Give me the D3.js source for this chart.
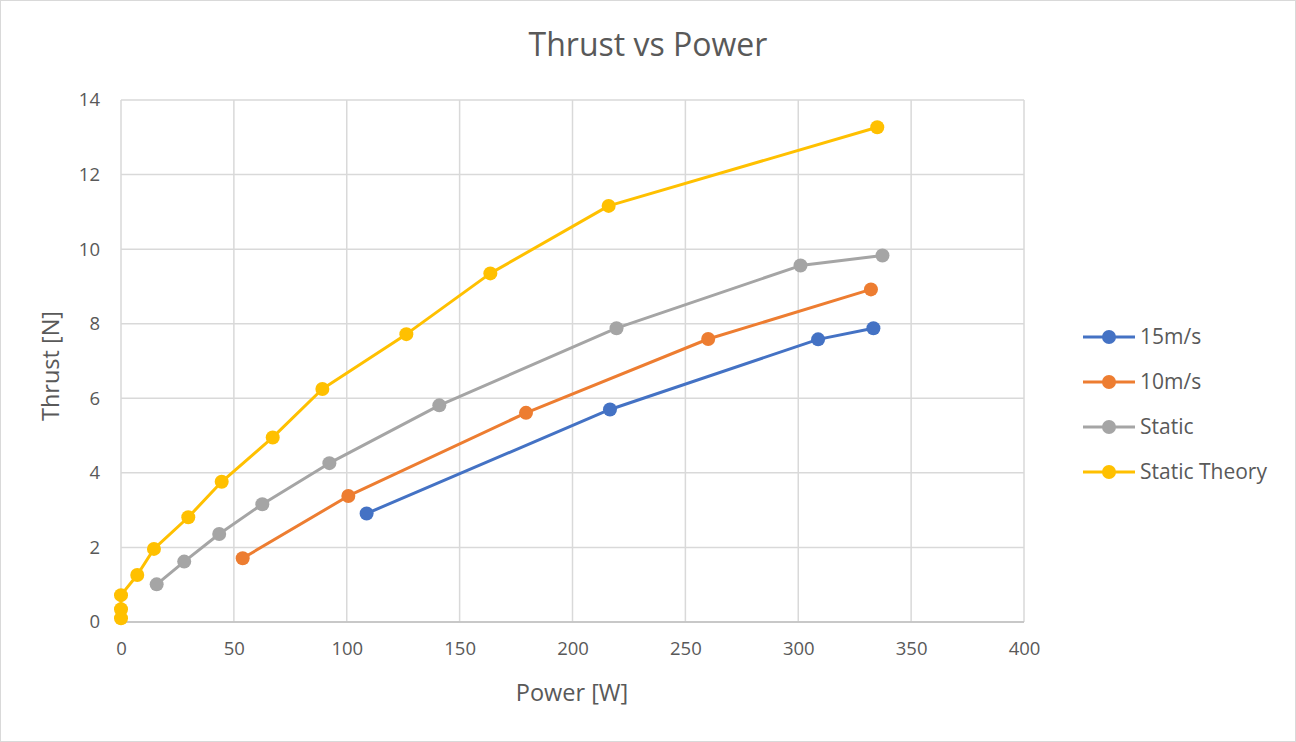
<!DOCTYPE html>
<html><head><meta charset="utf-8">
<script src="https://cdn.jsdelivr.net/npm/d3@7"></script>
<style>body{margin:0;background:#fff}svg{display:block}text{font-family:"Open Sans","Noto Sans",sans-serif;fill:#595959}</style>
</head><body>
<svg id="c" width="1296" height="742"></svg>
<script>
const seriesNames = ["15m/s", "10m/s", "Static", "Static Theory"];
const seriesColors = ["#4472C4", "#ED7D31", "#A5A5A5", "#FFC000"];
const power15 = [108.8, 216.6, 308.8, 333.3];
const thrust15 = [2.91, 5.70, 7.58, 7.88];
const power10 = [53.9, 100.7, 179.4, 260.1, 332.2];
const thrust10 = [1.71, 3.38, 5.61, 7.59, 8.92];
const powerStatic = [15.8, 28.0, 43.5, 62.6, 92.3, 141.0, 219.5, 301.0, 337.3];
const thrustStatic = [1.01, 1.62, 2.36, 3.16, 4.26, 5.81, 7.88, 9.56, 9.83];
const powerTheory = [0, 0, 0, 7.2, 14.6, 29.8, 44.6, 67.2, 89.2, 126.4, 163.6, 216.0, 335.0];
const thrustTheory = [0.1, 0.34, 0.72, 1.26, 1.96, 2.81, 3.76, 4.95, 6.25, 7.72, 9.35, 11.16, 13.27];
const xTicks = [0, 50, 100, 150, 200, 250, 300, 350, 400];
const yTicks = [0, 2, 4, 6, 8, 10, 12, 14];

const series = [
  {name: seriesNames[0], color: seriesColors[0], xs: power15, ys: thrust15},
  {name: seriesNames[1], color: seriesColors[1], xs: power10, ys: thrust10},
  {name: seriesNames[2], color: seriesColors[2], xs: powerStatic, ys: thrustStatic},
  {name: seriesNames[3], color: seriesColors[3], xs: powerTheory, ys: thrustTheory}
];

const svg = d3.select("#c");
svg.append("rect").attr("x",0.5).attr("y",0.5).attr("width",1295).attr("height",741)
  .attr("fill","#fff").attr("stroke","#d9d9d9");

const x = d3.scaleLinear().domain([0,400]).range([121,1024]);
const y = d3.scaleLinear().domain([0,14]).range([622,100]);

svg.append("g").selectAll("line").data(yTicks).join("line")
  .attr("x1",x(0)).attr("x2",x(400)).attr("y1",d=>y(d)).attr("y2",d=>y(d))
  .attr("stroke","#d9d9d9").attr("stroke-width",1.5);
svg.append("g").selectAll("line").data(xTicks).join("line")
  .attr("y1",y(0)).attr("y2",y(14)).attr("x1",d=>x(d)).attr("x2",d=>x(d))
  .attr("stroke","#d9d9d9").attr("stroke-width",1.5);
svg.append("line").attr("x1",x(0)).attr("x2",x(400)).attr("y1",y(0)).attr("y2",y(0))
  .attr("stroke","#bfbfbf").attr("stroke-width",1.5);

const xAxis = svg.append("g").attr("transform",`translate(0,${y(0)})`)
  .call(d3.axisBottom(x).tickValues(xTicks).tickSize(0).tickPadding(20).tickFormat(d3.format("d")));
xAxis.select(".domain").remove();
xAxis.selectAll("text").style("font-size","18.5px").attr("fill","#595959");
const yAxis = svg.append("g").attr("transform",`translate(${x(0)},0)`)
  .call(d3.axisLeft(y).tickValues(yTicks).tickSize(0).tickPadding(21).tickFormat(d3.format("d")));
yAxis.select(".domain").remove();
yAxis.selectAll("text").style("font-size","18.5px").attr("fill","#595959");

const line = d3.line().x(d=>x(d[0])).y(d=>y(d[1]));
series.forEach(s=>{
  const pts = s.xs.map((v,i)=>[v,s.ys[i]]);
  svg.append("path").datum(pts).attr("d",line).attr("fill","none")
    .attr("stroke",s.color).attr("stroke-width",3).attr("stroke-linejoin","round");
  svg.append("g").selectAll("circle").data(pts).join("circle")
    .attr("cx",d=>x(d[0])).attr("cy",d=>y(d[1])).attr("r",7).attr("fill",s.color);
});

svg.append("text").attr("x",648).attr("y",56).attr("text-anchor","middle")
  .style("font-size","32px").text("Thrust vs Power");
svg.append("text").attr("x",572).attr("y",701).attr("text-anchor","middle")
  .style("font-size","23.5px").text("Power [W]");
svg.append("text").attr("transform","translate(59,366) rotate(-90)").attr("text-anchor","middle")
  .style("font-size","23.5px").text("Thrust [N]");

const lg = svg.append("g").selectAll("g").data(series).join("g")
  .attr("transform",(d,i)=>`translate(1083,${337+i*45})`);
lg.append("line").attr("x1",0).attr("x2",52).attr("stroke",d=>d.color).attr("stroke-width",3);
lg.append("circle").attr("cx",26).attr("r",7).attr("fill",d=>d.color);
lg.append("text").attr("x",57).attr("dy","0.35em").style("font-size","21px").text(d=>d.name);
</script>
</body></html>
